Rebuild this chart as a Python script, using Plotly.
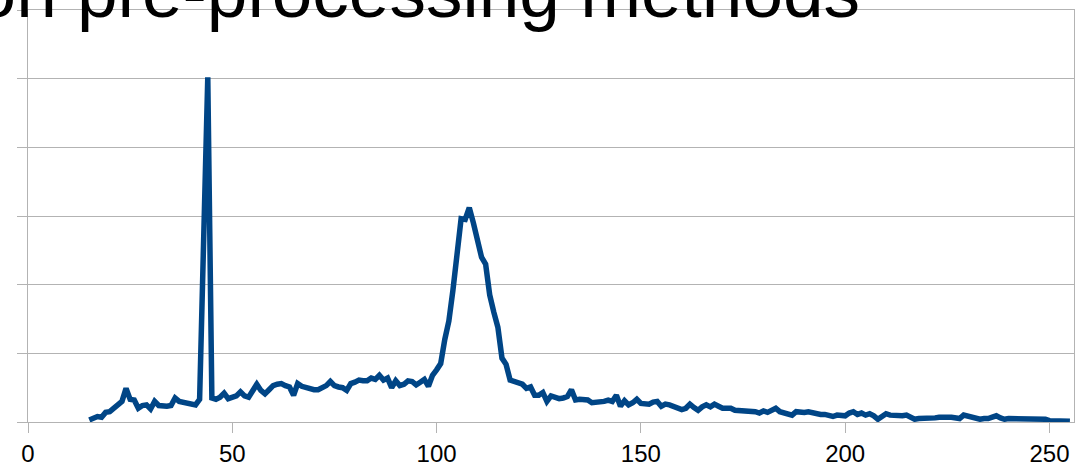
import plotly.graph_objects as go

# x positions (pixel intensity) and values
x_start = 15
values = [
    0.03, 0.05, 0.08, 0.07, 0.14, 0.15, 0.20, 0.24, 0.30, 0.49,  # 15-24
    0.33, 0.32, 0.20, 0.24, 0.25, 0.19, 0.30, 0.24, 0.23, 0.23,  # 25-34
    0.24, 0.35, 0.30, 0.29, 0.27, 0.27, 0.25, 0.33, 2.60, 5.02,  # 35-44
    0.35, 0.33, 0.36, 0.42, 0.34, 0.36, 0.38, 0.44, 0.38, 0.36,  # 45-54
    0.45, 0.55, 0.46, 0.41, 0.47, 0.53, 0.55, 0.56, 0.53, 0.51,  # 55-64
    0.39, 0.56, 0.52, 0.50, 0.50, 0.47, 0.47, 0.49, 0.53, 0.59,  # 65-74
    0.53, 0.51, 0.50, 0.46, 0.56, 0.58, 0.61, 0.60, 0.60, 0.64,  # 75-84
    0.62, 0.68, 0.61, 0.64, 0.50, 0.60, 0.53, 0.55, 0.60, 0.59,  # 85-94
    0.54, 0.58, 0.62, 0.52, 0.68, 0.76, 0.85, 1.20, 1.47, 1.92,  # 95-104
    2.50, 2.96, 2.95, 3.12, 2.90, 2.60, 2.40, 2.30, 1.85, 1.60,  # 105-114
    1.38, 0.93, 0.84, 0.61, 0.59, 0.59, 0.55, 0.49, 0.51, 0.39,  # 115-124
    0.39, 0.43, 0.30, 0.38, 0.36, 0.34, 0.35, 0.37, 0.47, 0.32,  # 125-134
    0.33, 0.33, 0.32, 0.28, 0.28, 0.28, 0.30, 0.32, 0.30, 0.39,  # 135-144
    0.23, 0.31, 0.25, 0.28, 0.33, 0.27, 0.26, 0.26, 0.29, 0.30,  # 145-154
    0.23, 0.26, 0.25, 0.23, 0.21, 0.18, 0.20, 0.26, 0.21, 0.17,  # 155-164
    0.22, 0.25, 0.22, 0.26, 0.23, 0.20, 0.20, 0.20, 0.17, 0.17,  # 165-174
    0.17, 0.16, 0.16, 0.15, 0.13, 0.16, 0.14, 0.17, 0.20, 0.15,  # 175-184
    0.14, 0.13, 0.10, 0.15, 0.14, 0.14, 0.15, 0.13, 0.13, 0.11,  # 185-194
    0.11, 0.10, 0.08, 0.10, 0.10, 0.09, 0.13, 0.15, 0.11, 0.13,  # 195-204
    0.10, 0.12, 0.09, 0.04, 0.08, 0.12, 0.10, 0.09, 0.09, 0.09,  # 205-214
    0.10, 0.06, 0.04, 0.05, 0.05, 0.04, 0.05, 0.06, 0.07, 0.08,  # 215-224
    0.07, 0.07, 0.06, 0.05, 0.10, 0.08, 0.07, 0.05, 0.04, 0.05,  # 225-234
    0.05, 0.07, 0.09, 0.06, 0.04, 0.05, 0.05, 0.04, 0.04, 0.05,  # 235-244
    0.05, 0.04, 0.04, 0.04, 0.04, 0.02, 0.02, 0.03, 0.03, 0.02,  # 245-254
    0.01,                                                        # 255
]
x_values = list(range(x_start, x_start + len(values)))
x_ticks = [0, 50, 100, 150, 200, 250]
title_text = "Histogram comparison on pre-processing methods"

W, H = 1077, 470
ml, mr, mt, mb = 28, 3, 10, 48
plot_h = H - mt - mb

fig = go.Figure()
fig.add_trace(go.Scatter(
    x=x_values, y=values, mode="lines",
    line=dict(color="#004586", width=5.5),
    showlegend=False, hoverinfo="skip",
))

grid = "#b3b3b3"
fig.update_layout(
    width=W, height=H,
    margin=dict(l=ml, r=mr, t=mt, b=mb, pad=0),
    paper_bgcolor="white", plot_bgcolor="white",
    font=dict(family="Liberation Sans, Arial, sans-serif", color="black"),
    xaxis=dict(
        range=[0, 256], tickvals=x_ticks, ticktext=[str(v) for v in x_ticks],
        showgrid=False, zeroline=False,
        showline=True, linecolor=grid, linewidth=1, mirror=True,
        ticks="outside", ticklen=10, tickcolor=grid, tickwidth=1,
        tickfont=dict(size=24, color="black"),
    ),
    yaxis=dict(
        range=[0, 6], dtick=1,
        showgrid=True, gridcolor=grid, gridwidth=1, zeroline=False,
        showline=True, linecolor=grid, linewidth=1, mirror=True,
        ticks="outside", ticklen=10, tickcolor=grid, tickwidth=1,
        showticklabels=False,
    ),
)

# big title, cropped at the left edge like the reference
baseline_px = 17
fs = 73
center_px = baseline_px - 0.35 * fs
fig.add_annotation(
    text=title_text, xref="paper", yref="paper",
    x=(862 - ml) / (W - ml - mr), y=(H - mb - center_px) / plot_h,
    xanchor="right", yanchor="middle", showarrow=False,
    font=dict(size=fs, color="black", family="Liberation Sans, Arial, sans-serif"),
)

fig.write_html(
    "out.html",
    config={"displayModeBar": False},
    post_script="document.body.style.margin='0';",
)
